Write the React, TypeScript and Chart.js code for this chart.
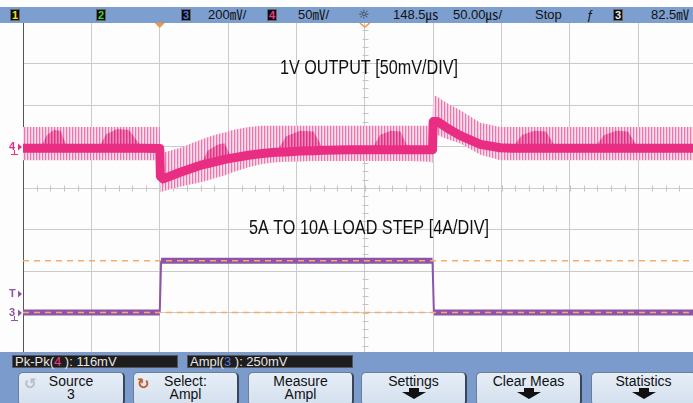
import React, { useEffect, useRef } from "react";
import { Chart, registerables } from "chart.js";
Chart.register(...registerables);

// ---- data (time and amplitude in screen divisions) ----
const pinkT = [0, 0.25, 0.35, 0.45, 0.55, 0.65, 1.1, 1.22, 1.38, 1.55, 1.75, 2.0, 2.01, 2.05, 2.3, 2.6, 2.7, 2.85, 2.95, 3.05, 3.3, 3.5, 3.7, 3.85, 4.05, 4.25, 4.4, 4.78, 5.1, 5.22, 5.38, 5.52, 5.65, 5.95, 5.99, 6.0, 6.06, 6.2, 6.39, 6.69, 6.98, 7.15, 7.3, 7.48, 7.65, 7.8, 8.35, 8.5, 8.68, 8.85, 9.0, 9.3, 9.8];
const pinkCore = [4.96, 4.96, 4.96, 4.96, 4.96, 4.96, 4.96, 4.96, 4.96, 4.96, 4.96, 4.95, 4.28, 4.22, 4.38, 4.55, 4.59, 4.65, 4.69, 4.72, 4.79, 4.83, 4.86, 4.87, 4.89, 4.9, 4.91, 4.92, 4.92, 4.92, 4.92, 4.92, 4.92, 4.92, 4.92, 5.6, 5.6, 5.45, 5.27, 5.05, 4.97, 4.96, 4.96, 4.96, 4.96, 4.96, 4.96, 4.96, 4.96, 4.96, 4.96, 4.96, 4.96];
const pinkHump = [4.96, 4.96, 5.28, 5.4, 5.38, 4.96, 4.96, 5.3, 5.42, 5.4, 4.96, 4.95, 4.28, 4.22, 4.38, 4.55, 4.9, 5.05, 5.08, 4.72, 4.79, 4.83, 4.86, 5.25, 5.38, 5.36, 4.91, 4.92, 4.92, 5.28, 5.38, 5.36, 4.92, 4.92, 4.92, 5.6, 5.6, 5.45, 5.27, 5.05, 4.97, 4.96, 5.28, 5.38, 5.36, 4.96, 4.96, 5.28, 5.38, 5.36, 4.96, 4.96, 4.96];
const pinkTop = [5.47, 5.47, 5.47, 5.47, 5.47, 5.47, 5.47, 5.47, 5.47, 5.47, 5.47, 5.47, 4.85, 4.85, 4.97, 5.16, 5.22, 5.3, 5.34, 5.39, 5.47, 5.5, 5.5, 5.5, 5.5, 5.5, 5.5, 5.5, 5.5, 5.5, 5.5, 5.5, 5.5, 5.5, 5.5, 6.24, 6.2, 6.05, 5.88, 5.57, 5.47, 5.47, 5.47, 5.47, 5.47, 5.47, 5.47, 5.47, 5.47, 5.47, 5.47, 5.47, 5.47];
const pinkBottom = [4.67, 4.67, 4.67, 4.67, 4.67, 4.67, 4.67, 4.67, 4.67, 4.67, 4.67, 4.67, 3.9, 3.92, 4.03, 4.14, 4.18, 4.26, 4.3, 4.37, 4.5, 4.58, 4.62, 4.63, 4.64, 4.65, 4.65, 4.65, 4.65, 4.65, 4.65, 4.65, 4.65, 4.63, 4.6, 5.25, 5.28, 5.18, 5.08, 4.8, 4.67, 4.67, 4.67, 4.67, 4.67, 4.67, 4.67, 4.67, 4.67, 4.67, 4.67, 4.67, 4.67];

const purpleT = [0, 2.0, 2.02, 5.99, 6.01, 9.8];
const purpleV = [1.0, 1.0, 2.25, 2.25, 1.0, 1.0];

const cursorLevels = [2.25, 1.0];
const ch4Ground = 5;
const ch3Ground = 1;
const trigLevel = 1.45;
const trigTime = 2.0;
const delayRef = 5.0;

const annotations = [
  { text: "1V OUTPUT [50mV/DIV]", x: 5.06, y: 6.88, width: 178 },
  { text: "5A TO 10A LOAD STEP [4A/DIV]", x: 5.06, y: 3.03, width: 240 },
];

const FONT = '"Liberation Sans", Arial, "Noto Sans CJK JP", sans-serif';
const PINK = "rgb(232,45,130)";
const PURPLE = "rgb(140,84,170)";
const ORANGE = "rgb(245,172,105)";

function pts(xs: number[], ys: number[]) {
  return xs.map((x, i) => ({ x, y: ys[i] }));
}

function stripes(ctx: CanvasRenderingContext2D, a: string, b: string, c: string) {
  const pc = document.createElement("canvas");
  pc.width = 3; pc.height = 1;
  const g = pc.getContext("2d")!;
  g.fillStyle = c; g.fillRect(0, 0, 3, 1);
  g.fillStyle = b; g.fillRect(1, 0, 1, 1);
  g.fillStyle = a; g.fillRect(0, 0, 1, 1);
  return ctx.createPattern(pc, "repeat");
}

const overlay = {
  id: "overlay",
  beforeDatasetsDraw(chart: any) {
    const { ctx, scales } = chart;
    const sx = scales.x, sy = scales.y;
    ctx.save();
    ctx.strokeStyle = "#c4c4c4";
    ctx.lineWidth = 1;
    const cy = Math.round(sy.getPixelForValue(4)) + 0.5;
    for (let v = 0.2; v < 9.8; v += 0.2) {
      const px = Math.round(sx.getPixelForValue(v)) + 0.5;
      ctx.beginPath(); ctx.moveTo(px, cy - 3); ctx.lineTo(px, cy + 3); ctx.stroke();
    }
    const cx = Math.round(sx.getPixelForValue(5)) + 0.5;
    for (let v = 0.2; v < 8; v += 0.2) {
      const py = Math.round(sy.getPixelForValue(v)) + 0.5;
      ctx.beginPath(); ctx.moveTo(cx - 3, py); ctx.lineTo(cx + 3, py); ctx.stroke();
    }
    ctx.restore();
  },
  afterDraw(chart: any) {
    const { ctx, scales } = chart;
    const sx = scales.x, sy = scales.y;
    ctx.save();
    // annotations
    ctx.font = '20px "Liberation Sans Narrow", "Liberation Sans", Arial, sans-serif';
    ctx.textAlign = "center";
    ctx.textBaseline = "middle";
    ctx.fillStyle = "#111";
    annotations.forEach((a) => {
      ctx.fillText(a.text, sx.getPixelForValue(a.x), sy.getPixelForValue(a.y), a.width);
    });
    // left markers
    const marker = (label: string, v: number, color: string, ground: boolean) => {
      const y = Math.round(sy.getPixelForValue(v));
      ctx.fillStyle = color;
      ctx.strokeStyle = color;
      ctx.font = "bold 11px " + FONT;
      ctx.textAlign = "left";
      ctx.textBaseline = "middle";
      ctx.fillText(label, 9, y);
      ctx.beginPath(); ctx.moveTo(18, y - 3.5); ctx.lineTo(22, y); ctx.lineTo(18, y + 3.5); ctx.closePath(); ctx.fill();
      if (ground) {
        ctx.lineWidth = 1;
        ctx.beginPath(); ctx.moveTo(14.5, y + 3); ctx.lineTo(14.5, y + 7); ctx.stroke();
        ctx.beginPath(); ctx.moveTo(11, y + 7.5); ctx.lineTo(18, y + 7.5); ctx.stroke();
      }
    };
    marker("4", ch4Ground, PINK, true);
    marker("T", trigLevel, PURPLE, false);
    marker("3", ch3Ground, PURPLE, true);
    // top markers
    const tx = sx.getPixelForValue(trigTime);
    const top = chart.chartArea.top;
    ctx.fillStyle = "rgb(245,150,60)";
    ctx.beginPath(); ctx.moveTo(tx - 5, top + 1); ctx.lineTo(tx + 5, top + 1); ctx.lineTo(tx, top + 6); ctx.closePath(); ctx.fill();
    const dx = sx.getPixelForValue(delayRef);
    ctx.strokeStyle = "rgb(245,150,60)";
    ctx.lineWidth = 1.5;
    ctx.beginPath(); ctx.moveTo(dx - 5, top + 1); ctx.lineTo(dx, top + 5); ctx.lineTo(dx + 5, top + 1); ctx.stroke();
    ctx.restore();
  },
};

const barText: React.CSSProperties = {
  position: "absolute", top: 0, font: "13px " + FONT, color: "#111", lineHeight: "16px", whiteSpace: "nowrap",
};

function ChBox({ x, label, color }: { x: number; label: string; color: string }) {
  return (
    <div style={{ position: "absolute", left: x, top: 2, width: 10, height: 12, background: "#0c0c0c", border: "1px solid #666", boxSizing: "border-box", color, font: "bold 11px " + FONT, lineHeight: "11px", textAlign: "center" }}>{label}</div>
  );
}

function DownArrow() {
  return (
    <svg width="24" height="11" style={{ position: "absolute", left: "50%", marginLeft: -12, top: 15 }}>
      <polygon points="7,0 17,0 17,4 24,4 12,11 0,4 7,4" fill="#111" />
    </svg>
  );
}

function Button({ x, w, l1, l2, icon, iconColor, arrow }: { x: number; w: number; l1: string; l2?: string; icon?: string; iconColor?: string; arrow?: boolean }) {
  return (
    <div style={{ position: "absolute", left: x, top: 372, width: w, height: 34, boxSizing: "border-box", background: "linear-gradient(#e6eef7, #d3e0ee)", border: "1px solid #6d7f96", borderRightWidth: 2, borderRightColor: "#394658", borderRadius: 5 }}>
      {icon && <div style={{ position: "absolute", left: icon === "↻" ? 3 : 5, top: 2, font: "bold 15px 'DejaVu Sans'", color: iconColor }}>{icon}</div>}
      <div style={{ position: "absolute", left: 0, right: 0, top: 1, textAlign: "center", font: "14px " + FONT, color: "#111", lineHeight: "14px" }}>
        {l1}
      </div>
      {l2 && <div style={{ position: "absolute", left: 0, right: 0, top: 14, textAlign: "center", font: "14px " + FONT, color: "#111", lineHeight: "14px" }}>{l2}</div>}
      {arrow && <DownArrow />}
    </div>
  );
}

export default function App() {
  const ref = useRef<HTMLCanvasElement>(null);
  useEffect(() => {
    const canvas = ref.current!;
    const ctx = canvas.getContext("2d")!;
    const envPattern = stripes(ctx, "rgb(236,118,172)", "rgb(246,196,220)", "rgb(250,222,236)");
    const humpPattern = stripes(ctx, "rgb(228,48,132)", "rgb(234,96,160)", "rgb(240,140,188)");

    const chart = new Chart(canvas, {
      type: "line",
      data: {
        datasets: [
          { data: pts(purpleT, purpleV), borderColor: PURPLE, borderWidth: 6, order: 1, fill: false,
            segment: { borderWidth: (c: any) => (Math.abs(c.p0.parsed.y - c.p1.parsed.y) > 0.5 ? 2 : 6) } } as any,
          { data: pts(pinkT, pinkCore), borderColor: PINK, borderWidth: 9, order: 2, fill: false, borderJoinStyle: "round" },
          { data: pts(pinkT, pinkHump), borderWidth: 0, borderColor: "transparent", backgroundColor: humpPattern as any, fill: 1, order: 3 },
          { data: pts(pinkT, pinkTop), borderWidth: 0, borderColor: "transparent", backgroundColor: envPattern as any, fill: "+1", order: 4 },
          { data: pts(pinkT, pinkBottom), borderWidth: 0, borderColor: "transparent", fill: false, order: 5 },
          { data: [{ x: 0, y: cursorLevels[0] }, { x: 9.8, y: cursorLevels[0] }], borderColor: ORANGE, borderWidth: 1.5, borderDash: [6, 5], fill: false, order: 0 },
          { data: [{ x: 0, y: cursorLevels[1] }, { x: 9.8, y: cursorLevels[1] }], borderColor: ORANGE, borderWidth: 1.5, borderDash: [6, 5], fill: false, order: 0 },
        ],
      },
      options: {
        animation: false,
        responsive: false,
        layout: { padding: { left: 23, top: 22, right: 0, bottom: 49 } },
        plugins: { legend: { display: false }, tooltip: { enabled: false }, title: { display: false } },
        elements: { point: { radius: 0 }, line: { tension: 0 } },
        scales: {
          x: { type: "linear", min: 0, max: 9.8, ticks: { display: false, stepSize: 1 },
            grid: { color: (c: any) => (Number.isInteger(c.tick.value) && c.tick.value > 0 ? "#cbcbcb" : "transparent"), drawTicks: false, lineWidth: 1 },
            border: { display: false } },
          y: { type: "linear", min: 0, max: 8, ticks: { display: false, stepSize: 1 },
            grid: { color: "#cbcbcb", drawTicks: false, lineWidth: 1 },
            border: { display: true, color: "#555", width: 1 } },
        },
      },
      plugins: [overlay],
    });
    return () => chart.destroy();
  }, []);

  return (
    <div style={{ position: "fixed", left: 0, top: 0, width: 693, height: 403, background: "#fdfdfd", overflow: "hidden" }}>
      <canvas ref={ref} width={693} height={403} style={{ position: "absolute", left: 0, top: 0 }} />
      {/* top status bar */}
      <div style={{ position: "absolute", left: 0, top: 7, width: 693, height: 16, background: "#7d9fd0" }}>
        <ChBox x={10} label="1" color="#f2e21a" />
        <ChBox x={96} label="2" color="#3fd43f" />
        <ChBox x={181} label="3" color="#4f78e0" />
        <div style={{ ...barText, left: 208 }}>200㎷/</div>
        <ChBox x={267} label="4" color="#ee3a8c" />
        <div style={{ ...barText, left: 298 }}>50㎷/</div>
        <div style={{ ...barText, left: 358, font: "13px 'DejaVu Sans'", color: "#333" }}>☼</div>
        <div style={{ ...barText, left: 393 }}>148.5㎲</div>
        <div style={{ ...barText, left: 453 }}>50.00㎲/</div>
        <div style={{ ...barText, left: 535 }}>Stop</div>
        <div style={{ ...barText, left: 586, fontStyle: "italic" }}>ƒ</div>
        <ChBox x={613} label="3" color="#e8e8e8" />
        <div style={{ ...barText, left: 651 }}>82.5㎷</div>
      </div>
      {/* bottom measurement + softkeys */}
      <div style={{ position: "absolute", left: 0, top: 352, width: 693, height: 51, background: "#7a9bcb" }}>
        <div style={{ position: "absolute", left: 12, top: 3, width: 166, height: 13, background: "#1d1d1d", border: "1px solid #555", boxSizing: "border-box", color: "#e6e6e6", font: "13px " + FONT, lineHeight: "12px", paddingLeft: 2, whiteSpace: "nowrap" }}>
          Pk-Pk(<span style={{ color: "#f03c8f" }}>4</span> ): 116mV
        </div>
        <div style={{ position: "absolute", left: 187, top: 3, width: 166, height: 13, background: "#1d1d1d", border: "1px solid #555", boxSizing: "border-box", color: "#e6e6e6", font: "13px " + FONT, lineHeight: "12px", paddingLeft: 2, whiteSpace: "nowrap" }}>
          Ampl(<span style={{ color: "#4f78e0" }}>3</span> ): 250mV
        </div>
      </div>
      <Button x={18} w={107} l1="Source" l2="3" icon="↺" iconColor="#b8bcc4" />
      <Button x={133} w={106} l1="Select:" l2="Ampl" icon="↻" iconColor="#c25a22" />
      <Button x={248} w={106} l1="Measure" l2="Ampl" />
      <Button x={361} w={106} l1="Settings" arrow />
      <Button x={476} w={106} l1="Clear Meas" arrow />
      <Button x={591} w={106} l1="Statistics" arrow />
    </div>
  );
}
